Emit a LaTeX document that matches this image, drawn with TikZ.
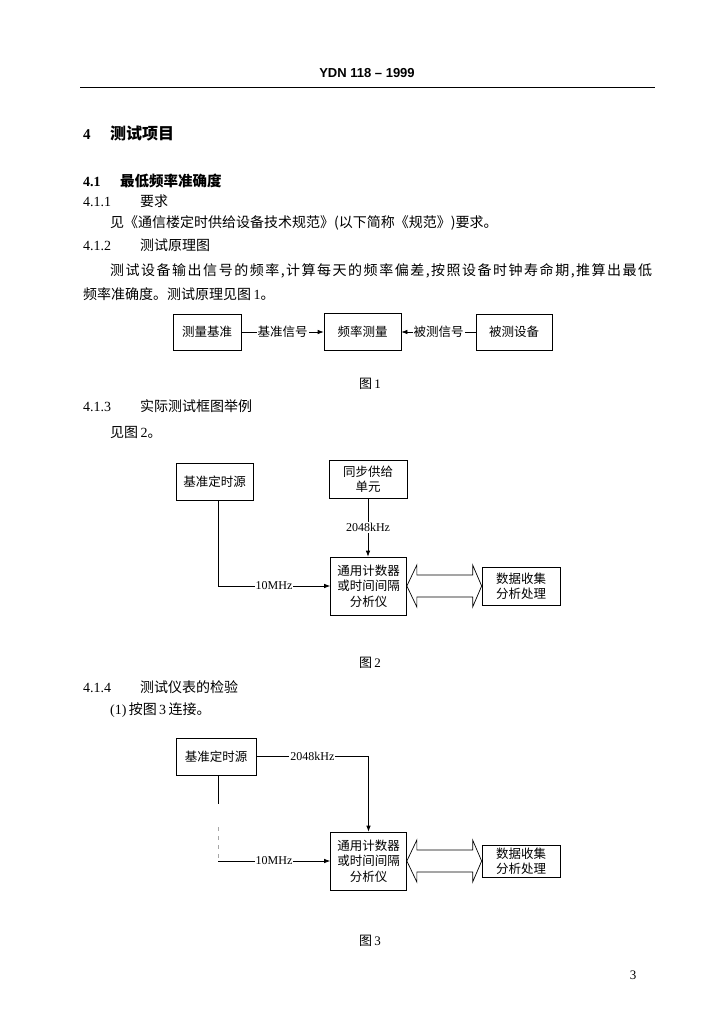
\documentclass[tikz,border=0pt]{standalone}
\usepackage{fontspec}
\setmainfont{Liberation Serif}
\setsansfont{Liberation Sans}
\newfontfamily\cjk{Noto Sans CJK SC}
\newfontfamily\lblfont{Liberation Serif}
\usetikzlibrary{arrows.meta,calc}
\makeatletter
\newcommand\spreadtext[2]{\makebox[#1][l]{\@tfor\sp@x:=#2\do{\sp@x\hfill}\unskip}}
\makeatother
\begin{document}
\begin{tikzpicture}[x=1pt,y=-1pt,
  box/.style={draw, line width=0.7pt, inner sep=0pt, align=center, font=\cjk\fontsize{12.5}{15.5}\selectfont},
  lbl/.style={fill=white, inner sep=1pt, font=\lblfont\fontsize{12}{12}\selectfont},
  clbl/.style={fill=white, inner sep=1pt, font=\cjk\fontsize{12.5}{12.5}\selectfont},
  conn/.style={line width=0.7pt},
  arr/.style={conn, -{Latex[length=6pt,width=4.5pt]}},
  body/.style={inner sep=0pt, anchor=base west, font=\cjk\fontsize{14}{14}\selectfont},
  num/.style={inner sep=0pt, anchor=base west, font=\fontsize{14}{14}\selectfont},
  figcap/.style={inner sep=0pt, anchor=base, font=\cjk\fontsize{13}{13}\selectfont}
]
\useasboundingbox (0,0) rectangle (723,1024);
% header
\node[inner sep=0pt, anchor=base, font=\sffamily\bfseries\fontsize{13}{13}\selectfont] (hdr) at (367,78) {YDN 118 -- 1999};
\coordinate (rl) at (80,87); \coordinate (rr) at (655,87);
\draw[line width=0.8pt] (rl) -- (rr);
% headings and text
\node[num, font=\bfseries\fontsize{15}{15}\selectfont] (h4n) at (83,140) {4};
\node[body, font=\cjk\bfseries\fontsize{16}{16}\selectfont] (h4) at (110,140) {测试项目};
\node[num, font=\bfseries\fontsize{14}{14}\selectfont] (h41n) at (83,186.5) {4.1};
\node[body, font=\cjk\bfseries\fontsize{14.5}{14.5}\selectfont] (h41) at (120,186.5) {最低频率准确度};
\node[num] (h411n) at (83,207) {4.1.1};
\node[body] (h411) at (140,207) {要求};
\node[body] (t1) at (110,228) {见《通信楼定时供给设备技术规范》(以下简称《规范》)要求。};
\node[num] (h412n) at (83,250) {4.1.2};
\node[body] (h412) at (140,250) {测试原理图};
\node[body] (t2) at (110,275) {\spreadtext{542pt}{测试设备输出信号的频率,计算每天的频率偏差,按照设备时钟寿命期,推算出最低}};
\node[body] (t3) at (83,299) {频率准确度。测试原理见图\,{\rmfamily 1}。};
% figure 1
\node[box, minimum width=68pt, minimum height=36pt] (b1) at (207,332) {测量基准};
\node[box, minimum width=77pt, minimum height=37pt] (b2) at (362.5,332) {频率测量};
\node[box, minimum width=76pt, minimum height=36pt] (b3) at (514,332) {被测设备};
\draw[arr] (b1.east) -- node[clbl]{基准信号} (b2.west);
\draw[arr] (b3.west) -- node[clbl]{被测信号} (b2.east);
\node[figcap] (cap1) at (370,388) {图\,{\rmfamily 1}};
\node[num] (h413n) at (83,411) {4.1.3};
\node[body] (h413) at (140,411) {实际测试框图举例};
\node[body] (t4) at (110,437) {见图\,{\rmfamily 2}。};
% figure 2
\node[box, minimum width=77pt, minimum height=37pt] (ref2) at (214.5,481.5) {基准定时源};
\node[box, minimum width=78pt, minimum height=38pt] (sync) at (368,479) {同步供给\\单元};
\node[box, minimum width=76pt, minimum height=58pt] (cnt2) at (368.5,586) {通用计数器\\或时间间隔\\分析仪};
\node[box, minimum width=78pt, minimum height=38pt] (data2) at (521,586) {数据收集\\分析处理};
\draw[arr] (sync.south) -- node[lbl]{2048kHz} (sync.south |- cnt2.north);
\coordinate (c2) at (218,586);
\draw[arr] (ref2.south -| c2) -- (c2) -- node[lbl]{10MHz} (cnt2.west);
\draw[conn] (cnt2.east) -- ++(10,-21) -- ++(0,10) -- ($(data2.west)+(-9,-11)$) -- ++(0,-10) -- (data2.west)
  -- ++(-9,21) -- ++(0,-10) -- ($(cnt2.east)+(10,11)$) -- ++(0,10) -- cycle;
\node[figcap] (cap2) at (370,667) {图\,{\rmfamily 2}};
\node[num] (h414n) at (83,692) {4.1.4};
\node[body] (h414) at (140,692) {测试仪表的检验};
\node[body] (t5) at (110,714) {{\rmfamily (1)}\,按图\,{\rmfamily 3}\,连接。};
% figure 3
\node[box, minimum width=80pt, minimum height=37pt] (ref3) at (216,756.5) {基准定时源};
\node[box, minimum width=76pt, minimum height=58pt] (cnt3) at (368.5,861) {通用计数器\\或时间间隔\\分析仪};
\node[box, minimum width=78pt, minimum height=32pt] (data3) at (521,861) {数据收集\\分析处理};
\draw[arr] (ref3.east) -- node[lbl]{2048kHz} (ref3.east -| cnt3.north) -- (cnt3.north);
\coordinate (k1) at (218,804);
\coordinate (k2) at (218,827);
\coordinate (k3) at (218,861);
\draw[conn] (ref3.south -| k1) -- (k1);
\draw[conn, gray!70, dash pattern=on 4pt off 5pt] (k2) -- (k3);
\draw[arr] (k3) -- node[lbl]{10MHz} (cnt3.west);
\draw[conn] (cnt3.east) -- ++(10,-21) -- ++(0,10) -- ($(data3.west)+(-9,-11)$) -- ++(0,-10) -- (data3.west)
  -- ++(-9,21) -- ++(0,-10) -- ($(cnt3.east)+(10,11)$) -- ++(0,10) -- cycle;
\node[figcap] (cap3) at (370,945) {图\,{\rmfamily 3}};
\node[inner sep=0pt, anchor=base, font=\fontsize{13}{13}\selectfont] (pg) at (633,979) {3};
\end{tikzpicture}
\end{document}
